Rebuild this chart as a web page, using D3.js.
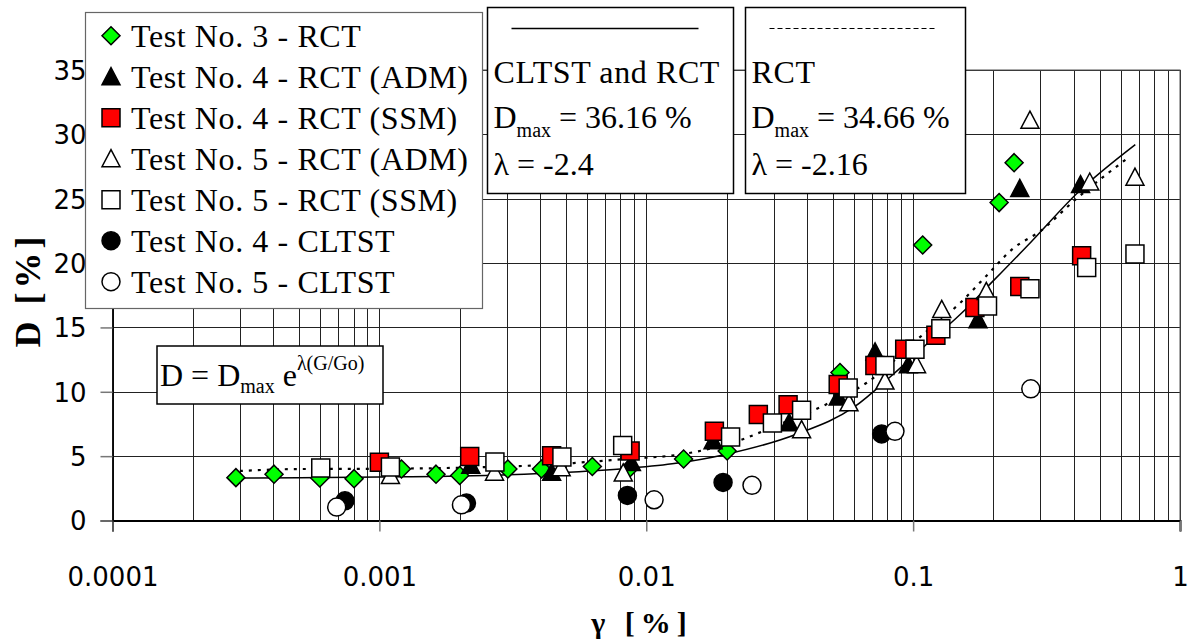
<!DOCTYPE html>
<html><head><meta charset="utf-8">
<script src="https://cdn.jsdelivr.net/npm/d3@7"></script>
<style>body{margin:0;background:#fff}svg{display:block}</style></head>
<body><svg id="c" width="1190" height="641"></svg>
<script>
// ---- data ----
const xTicks = [0.0001, 0.001, 0.01, 0.1, 1];
const xTickLabels = ["0.0001", "0.001", "0.01", "0.1", "1"];
const yTicks = [0, 5, 10, 15, 20, 25, 30, 35];

const test3RCT = [[0.00029,3.33],[0.000403,3.6],[0.000598,3.3],[0.000804,3.25],[0.00121,4.0],[0.00163,3.6],[0.002,3.5],[0.00303,4.0],[0.00405,4.0],[0.00628,4.2],[0.0087,4.1],[0.0138,4.78],[0.0201,5.4],[0.0532,11.5],[0.1086,21.4],[0.21,24.7],[0.239,27.8]];
const test4ADM = [[0.0022,4.3],[0.00442,3.75],[0.0088,4.5],[0.0178,6.2],[0.0343,7.6],[0.0524,9.6],[0.072,13.1],[0.0959,12.1],[0.175,15.6],[0.251,25.8],[0.424,26.1]];
const test4SSM = [[0.001,4.52],[0.00218,4.98],[0.00442,5.04],[0.0087,5.4],[0.018,6.93],[0.0263,8.23],[0.034,9.0],[0.0524,10.57],[0.0719,12.05],[0.093,13.3],[0.1217,14.4],[0.1704,16.54],[0.251,18.18],[0.428,20.56]];
const test5ADM = [[0.0011,3.5],[0.0027,3.75],[0.0048,4.1],[0.0082,3.7],[0.0382,7.06],[0.0575,9.14],[0.0784,10.83],[0.103,12.1],[0.128,16.4],[0.188,17.8],[0.274,31.1],[0.459,26.3],[0.678,26.67]];
const test5SSM = [[0.000603,4.08],[0.0011,4.16],[0.00271,4.55],[0.00483,4.94],[0.00816,5.82],[0.0207,6.49],[0.0297,7.58],[0.0382,8.57],[0.0571,10.3],[0.0784,12.05],[0.1016,13.3],[0.127,14.9],[0.19,16.67],[0.274,18.0],[0.447,19.66],[0.678,20.7]];
const test4CLTST = [[0.000743,1.53],[0.00212,1.35],[0.0085,1.95],[0.0194,2.96],[0.0762,6.73]];
const test5CLTST = [[0.000692,1.04],[0.00203,1.22],[0.0107,1.61],[0.0249,2.73],[0.0855,6.93],[0.276,10.23]];

const fitCLTSTandRCT = [[0.00029,3.3],[0.001,3.38],[0.002,3.45],[0.004,3.65],[0.008,4.0],[0.0125,4.4],[0.02,5.15],[0.0365,6.7],[0.06,8.8],[0.0836,11.3],[0.111,13.6],[0.15,16.0],[0.197,18.5],[0.267,21.3],[0.42,25.6],[0.68,29.2]];
const fitRCT = [[0.0003,3.85],[0.0005,4.0],[0.001,4.02],[0.002,4.1],[0.004,4.3],[0.008,4.75],[0.0141,5.2],[0.0218,6.15],[0.0307,7.37],[0.047,9.0],[0.067,10.7],[0.111,14.6],[0.15,16.9],[0.188,19.0],[0.236,21.1],[0.305,22.6],[0.394,24.7],[0.65,28.3]];

const legendLabels = ["Test No. 3 - RCT","Test No. 4 - RCT (ADM)","Test No. 4 - RCT (SSM)","Test No. 5 - RCT (ADM)","Test No. 5 - RCT (SSM)","Test No. 4 - CLTST","Test No. 5 - CLTST"];

// ---- chart ----
const svg = d3.select("#c");
const L = 112.5, R = 1180, T = 70, B = 520.5;
const x = d3.scaleLog().domain([1e-4, 1]).range([L, R]);
const y = d3.scaleLinear().domain([0, 35]).range([B, T]);

const serif = "'Liberation Serif','Times New Roman',serif";
const sans = "'DejaVu Sans',sans-serif";

// gridlines
const minor = [];
for (let k = -4; k < 0; k++) for (let i = 1; i <= 9; i++) minor.push(i * Math.pow(10, k));
minor.push(1);
const grid = svg.append("g");
grid.selectAll("line.v").data(minor).join("line")
  .attr("x1", d => Math.round(x(d)) + 0.5).attr("x2", d => Math.round(x(d)) + 0.5)
  .attr("y1", T).attr("y2", B).attr("stroke", "#222").attr("stroke-width", 1);
grid.selectAll("line.h").data(yTicks).join("line")
  .attr("x1", L).attr("x2", R)
  .attr("y1", d => Math.round(y(d)) + 0.5).attr("y2", d => Math.round(y(d)) + 0.5)
  .attr("stroke", "#222").attr("stroke-width", 1);

// frame
svg.append("rect").attr("x", L).attr("y", T).attr("width", R - L).attr("height", B - T)
  .attr("fill", "none").attr("stroke", "#555").attr("stroke-width", 1);

// axes
const xAxis = d3.axisBottom(x).tickValues(xTicks).tickFormat((d, i) => xTickLabels[i]).tickSize(11).tickPadding(44);
const gx = svg.append("g").attr("transform", `translate(0,${B})`).call(xAxis);
gx.select(".domain").attr("stroke", "#000").attr("stroke-width", 2);
gx.selectAll(".tick line").attr("stroke", "#777").attr("stroke-width", 1.5);
gx.selectAll("text").attr("font-family", sans).attr("font-size", 26).attr("fill", "#000").attr("dy", 0).attr("y", 65);

const yAxis = d3.axisLeft(y).tickValues(yTicks).tickSize(12).tickPadding(14);
const gy = svg.append("g").attr("transform", `translate(${L},0)`).call(yAxis);
gy.select(".domain").attr("stroke", "#000").attr("stroke-width", 1.5);
gy.selectAll(".tick line").attr("stroke", "#777").attr("stroke-width", 1.5);
gy.selectAll("text").attr("font-family", sans).attr("font-size", 26).attr("fill", "#000").attr("dy", "0.36em").attr("x", -26);

// fit curves
const line = d3.line().x(d => x(d[0])).y(d => y(d[1])).curve(d3.curveMonotoneX);
svg.append("path").datum(fitCLTSTandRCT).attr("d", line).attr("fill", "none").attr("stroke", "#000").attr("stroke-width", 1.5);
svg.append("path").datum(fitRCT).attr("d", line).attr("fill", "none").attr("stroke", "#000").attr("stroke-width", 2.2).attr("stroke-dasharray", "3,6");

// marker shapes
function shapePath(type) {
  const s = 9;
  if (type === "diamond") return `M0,${-s}L${s},0L0,${s}L${-s},0Z`;
  if (type === "square") return `M${-s},${-s}H${s}V${s}H${-s}Z`;
  if (type === "triangle") return `M0,${-s}L${s},${s-1}L${-s},${s-1}Z`;
  if (type === "circle") return d3.symbol(d3.symbolCircle, Math.PI * s * s)();
}
const series = [
  {data: test3RCT, type: "diamond", fill: "#00ff00"},
  {data: test4ADM, type: "triangle", fill: "#000"},
  {data: test4SSM, type: "square", fill: "#ff0000"},
  {data: test5ADM, type: "triangle", fill: "#fff"},
  {data: test5SSM, type: "square", fill: "#fff"},
  {data: test4CLTST, type: "circle", fill: "#000"},
  {data: test5CLTST, type: "circle", fill: "#fff"}
];
series.forEach(s => {
  svg.append("g").selectAll("path").data(s.data).join("path")
    .attr("d", shapePath(s.type))
    .attr("transform", d => `translate(${x(d[0])},${y(d[1])})`)
    .attr("fill", s.fill).attr("stroke", "#000").attr("stroke-width", 1.5);
});

// legend
const lg = svg.append("g");
lg.append("rect").attr("x", 85.5).attr("y", 12.5).attr("width", 397).attr("height", 296)
  .attr("fill", "#fff").attr("stroke", "#666").attr("stroke-width", 1.2);
legendLabels.forEach((lab, i) => {
  const by = 46.7 + i * 41;
  const s = series[i];
  lg.append("path").attr("d", shapePath(s.type)).attr("transform", `translate(111,${by - 11})`)
    .attr("fill", s.fill).attr("stroke", "#000").attr("stroke-width", 1.5);
  lg.append("text").attr("x", 131).attr("y", by).attr("font-family", serif).attr("font-size", 32)
    .attr("letter-spacing", 0.6).text(lab);
});

// fit boxes
function fitBox(x0, x1, dashed, title, dmax, lam) {
  const g = svg.append("g");
  g.append("rect").attr("x", x0).attr("y", 7.5).attr("width", x1 - x0).attr("height", 186)
    .attr("fill", "#fff").attr("stroke", "#000").attr("stroke-width", 1.5);
  const ln = g.append("line").attr("x1", x0 + 24).attr("x2", x0 + (dashed ? 192 : 211)).attr("y1", 28.5).attr("y2", 28.5)
    .attr("stroke", "#000").attr("stroke-width", dashed ? 1 : 1.5);
  if (dashed) ln.attr("stroke-dasharray", "5,3");
  const tx = x0 + 6;
  g.append("text").attr("x", tx).attr("y", 82.7).attr("font-family", serif).attr("font-size", 32).attr("letter-spacing", 0.6).text(title);
  const t2 = g.append("text").attr("x", tx).attr("y", 128.3).attr("font-family", serif).attr("font-size", 32);
  t2.append("tspan").text("D");
  t2.append("tspan").attr("dy", 8.5).attr("font-size", 20).text("max");
  t2.append("tspan").attr("dy", -8.5).text(" = " + dmax + " %");
  g.append("text").attr("x", tx).attr("y", 175).attr("font-family", serif).attr("font-size", 32).text("λ = " + lam);
}
fitBox(487.5, 733.5, false, "CLTST and RCT", "36.16", "-2.4");
fitBox(745.5, 965.5, true, "RCT", "34.66", "-2.16");

// formula box
const fb = svg.append("g");
fb.append("rect").attr("x", 157).attr("y", 346).attr("width", 226).attr("height", 58)
  .attr("fill", "#fff").attr("stroke", "#000").attr("stroke-width", 1.5);
const ft = fb.append("text").attr("x", 160).attr("y", 386).attr("font-family", serif).attr("font-size", 32);
ft.append("tspan").text("D = D");
ft.append("tspan").attr("dy", 7).attr("font-size", 20).text("max");
ft.append("tspan").attr("dy", -7).text(" e");
ft.append("tspan").attr("dy", -16).attr("font-size", 20).text("λ(G/Go)");

// axis titles
svg.append("text").attr("transform", "translate(40,290) rotate(-90)").attr("text-anchor", "middle")
  .attr("font-family", serif).attr("font-weight", "bold").attr("font-size", 36).attr("letter-spacing", 4).text("D [%]");
svg.append("text").attr("x", 642).attr("y", 633).attr("text-anchor", "middle")
  .attr("font-family", serif).attr("font-weight", "bold").attr("font-size", 30).attr("letter-spacing", 6).text("γ [%]");
</script>
</body></html>
